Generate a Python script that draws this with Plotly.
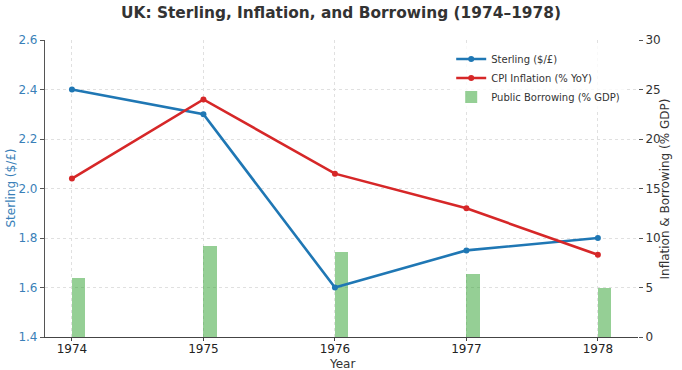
import plotly.graph_objects as go

years = [1974, 1975, 1976, 1977, 1978]
sterling = [2.40, 2.30, 1.60, 1.75, 1.80]
cpi = [16.0, 24.0, 16.5, 13.0, 8.3]
borrowing = [6.0, 9.2, 8.6, 6.4, 5.0]

font = "DejaVu Sans"
blue = "#1f77b4"
red = "#d62728"
green = "rgba(44,160,44,0.5)"
axblue = "#3a7fb8"

fig = go.Figure()
fig.add_trace(go.Scatter(x=years, y=sterling, name="Sterling ($/£)", mode="lines+markers",
                         line=dict(color=blue, width=2.6), marker=dict(size=6, color=blue),
                         yaxis="y2"))
fig.add_trace(go.Scatter(x=years, y=cpi, name="CPI Inflation (% YoY)", mode="lines+markers",
                         line=dict(color=red, width=2.6), marker=dict(size=6, color=red),
                         yaxis="y3"))
fig.add_trace(go.Bar(x=years, y=borrowing, name="Public Borrowing (% GDP)", marker=dict(color=green, line=dict(width=0)),
                     width=0.1, offset=0, yaxis="y"))

W, H = 682, 370
L, R, T, B = 45, 44, 40, 33
pw, ph = W - L - R, H - T - B

fig.update_layout(
    width=W, height=H,
    margin=dict(l=L, r=R, t=T, b=B, autoexpand=False),
    paper_bgcolor="white", plot_bgcolor="white",
    font=dict(family=font, size=11, color="#333333"),
    title=dict(text="<b>UK: Sterling, Inflation, and Borrowing (1974–1978)</b>", x=0.5, xanchor="center",
               yref="container", y=1 - 12.5 / H, yanchor="middle", font=dict(size=15.4, color="#333333"),
               automargin=False),
    showlegend=True,
    legend=dict(x=0.685, y=0.985, xanchor="left", yanchor="top", bgcolor="rgba(255,255,255,0.8)",
                font=dict(size=10, color="#333333"), tracegroupgap=0, itemwidth=30),
    xaxis=dict(range=[1973.795, 1978.305], tickvals=years, ticktext=[str(y) for y in years],
               showgrid=True, gridcolor="#e0e0e0", griddash="dot", gridwidth=1,
               showline=True, linecolor="#444444", linewidth=1.2, ticks="outside", ticklen=3,
               tickcolor="#444444", zeroline=False, automargin=False, ticklabelstandoff=-3,
               tickfont=dict(size=12, color="#222222")),
    yaxis=dict(side="right", range=[0, 30], tickvals=[0, 5, 10, 15, 20, 25, 30],
               showgrid=True, gridcolor="#e0e0e0", griddash="dot", gridwidth=1,
               ticks="outside", ticklen=4, tickcolor="#555555", zeroline=False, showline=False,
               tickfont=dict(size=12, color="#333333"), automargin=False),
    yaxis2=dict(overlaying="y", side="left", range=[1.4, 2.6],
                tickvals=[1.4, 1.6, 1.8, 2.0, 2.2, 2.4, 2.6],
                ticktext=["1.4", "1.6", "1.8", "2.0", "2.2", "2.4", "2.6"],
                showgrid=False, zeroline=False, showline=True, linecolor="#555555", linewidth=1.2,
                ticks="outside", ticklen=4, tickcolor="#555555", automargin=False,
                tickfont=dict(size=12, color=axblue)),
    yaxis3=dict(overlaying="y", side="right", range=[0, 30], visible=False),
    bargap=0,
    annotations=[
        dict(text="Year", xref="paper", yref="paper", x=0.5, y=-(364 - (H - B)) / ph,
             xanchor="center", yanchor="middle", showarrow=False,
             font=dict(size=12, color="#333333")),
        dict(text="Sterling ($/£)", xref="paper", yref="paper", x=(10 - L) / pw, y=0.5,
             xanchor="center", yanchor="middle", textangle=-90, showarrow=False,
             font=dict(size=12, color=axblue)),
        dict(text="Inflation & Borrowing (% GDP)", xref="paper", yref="paper", x=(664 - L) / pw, y=0.5,
             xanchor="center", yanchor="middle", textangle=-90, showarrow=False,
             font=dict(size=12, color="#333333")),
    ],
)

fig.write_html("out.html", config={"displayModeBar": False},
               post_script="document.body.style.margin='0';")
